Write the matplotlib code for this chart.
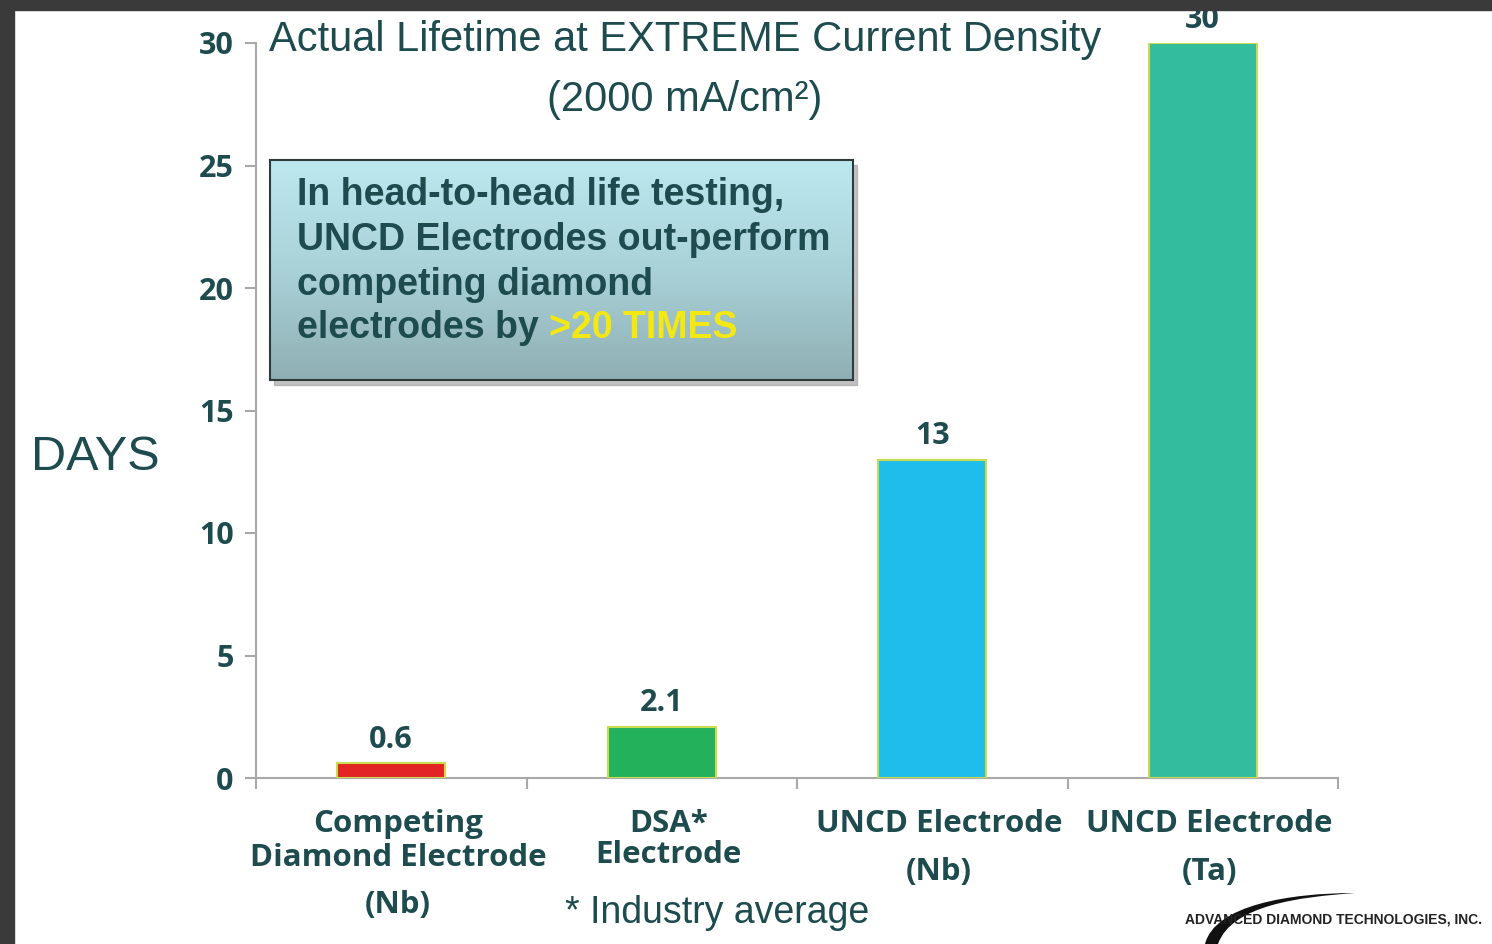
import matplotlib
matplotlib.use("Agg")
import matplotlib.pyplot as plt
import numpy as np
from matplotlib.patches import Rectangle, PathPatch
from matplotlib.path import Path
from matplotlib.colors import LinearSegmentedColormap

# data
categories = [["Competing", "Diamond Electrode", "(Nb)"],
              ["DSA*", "Electrode"],
              ["UNCD Electrode", "(Nb)"],
              ["UNCD Electrode", "(Ta)"]]
days = [0.6, 2.1, 13, 30]
value_labels = ["0.6", "2.1", "13", "30"]
bar_colors = ["#e22424", "#23b15b", "#1fbdea", "#33bd9e"]
yticks = [0, 5, 10, 15, 20, 25, 30]

TXT = "#1d4b4e"
LBL_FONT = "Open Sans"
W, H = 1492, 944

fig = plt.figure(figsize=(W / 100, H / 100), dpi=100, facecolor="white")

# dark frame at top and left, drawn above everything
fig.add_artist(Rectangle((0, 1 - 10 / H), 1, 10 / H, transform=fig.transFigure,
                         color="#3a3a3a", zorder=20))
fig.add_artist(Rectangle((0, 0), 14 / W, 1, transform=fig.transFigure,
                         color="#3a3a3a", zorder=20))

ax = fig.add_axes([256 / W, 1 - 778 / H, (1338 - 256) / W, (778 - 43) / H])
ax.set_facecolor("none")
x = np.arange(len(days))
ax.bar(x, days, width=0.4, color=bar_colors, edgecolor="#c9dc4f", linewidth=1.5, zorder=3)
ax.set_xlim(-0.5, 3.5)
ax.set_ylim(0, 30)

for s in ["top", "right"]:
    ax.spines[s].set_visible(False)
for s in ["left", "bottom"]:
    ax.spines[s].set_color("#a9a9a9")
    ax.spines[s].set_linewidth(1.5)

ax.set_yticks(yticks)
ax.set_yticklabels([str(v) for v in yticks], fontfamily=LBL_FONT, fontweight="bold",
                   fontsize=22, color=TXT)
ax.set_xticks(np.arange(-0.5, len(days), 1.0))
ax.set_xticklabels([])
ax.tick_params(axis="both", length=8, width=1.5, color="#a9a9a9", direction="out")
ax.tick_params(axis="y", pad=8)

# value labels
for xi, v, lab in zip(x, days, value_labels):
    ax.annotate(lab, (xi, v), xytext=(0, 6), textcoords="offset points",
                ha="center", va="bottom", fontfamily=LBL_FONT, fontweight="bold",
                fontsize=22, color=TXT, annotation_clip=False)

# category labels, line by line
line_gaps = [[34, 47], [31], [48], [48]]
for xi, lines, gaps in zip(x, categories, line_gaps):
    offs = [-46]
    for g in gaps:
        offs.append(offs[-1] - g)
    for ln, off in zip(lines, offs):
        ax.annotate(ln, (xi, 0), xycoords=("data", "axes fraction"),
                    xytext=(5, off * 0.72), textcoords="offset points",
                    ha="center", va="center", fontfamily=LBL_FONT, fontweight="bold",
                    fontsize=22.5, color=TXT, annotation_clip=False)

# title and axis label
fig.text(685 / W, 1 - 40 / H, "Actual Lifetime at EXTREME Current Density",
         ha="center", va="center", fontfamily="Liberation Sans", fontsize=30, color=TXT)
fig.text(685 / W, 1 - 100 / H, "(2000 mA/cm²)",
         ha="center", va="center", fontfamily="Liberation Sans", fontsize=30, color=TXT)
fig.text(95 / W, 1 - 458 / H, "DAYS", ha="center", va="center",
         fontfamily="Liberation Sans", fontsize=35, color=TXT)

# callout box with gradient
bx0, by0, bx1, by1 = 270, 160, 853, 380
fig.patches.append(Rectangle(((bx0 + 4) / W, 1 - (by1 + 5) / H), (bx1 - bx0) / W,
                             (by1 - by0) / H, transform=fig.transFigure,
                             color="#9a9a9a", alpha=0.6, zorder=1))
bax = fig.add_axes([bx0 / W, 1 - by1 / H, (bx1 - bx0) / W, (by1 - by0) / H], zorder=2)
cmap = LinearSegmentedColormap.from_list("box", ["#bde8ef", "#a9d2d8", "#8fafb3"])
grad = np.linspace(0, 1, 256).reshape(-1, 1)
bax.imshow(grad, aspect="auto", cmap=cmap, extent=(0, 1, 0, 1), origin="upper")
bax.set_xticks([])
bax.set_yticks([])
for s in bax.spines.values():
    s.set_color("#2f3a3a")
    s.set_linewidth(1.5)

box_lines = ["In head-to-head life testing,", "UNCD Electrodes out-perform",
             "competing diamond", "electrodes by "]
line_y = [195, 240, 285, 328]
for ln, yy in zip(box_lines, line_y):
    t = fig.text(297 / W, 1 - yy / H, ln, ha="left", va="center", fontfamily="Liberation Sans",
                 fontweight="bold", fontsize=27, color=TXT, zorder=5)
fig.canvas.draw()
bb = t.get_window_extent(renderer=fig.canvas.get_renderer())
fig.text(bb.x1 / W, 1 - line_y[-1] / H, ">20 TIMES", ha="left", va="center",
         fontfamily="Liberation Sans", fontweight="bold", fontsize=27, color="#f4e812", zorder=5)

# footnote
fig.text(565 / W, 1 - 913 / H, "* Industry average", ha="left", va="center",
         fontfamily="Liberation Sans", fontsize=27, color=TXT)

# company logo
verts = [(1205, 944), (1215, 905), (1290, 893), (1355, 893),
         (1300, 897), (1232, 905), (1218, 944), (1205, 944)]
codes = [Path.MOVETO, Path.CURVE4, Path.CURVE4, Path.CURVE4,
         Path.CURVE4, Path.CURVE4, Path.CURVE4, Path.CLOSEPOLY]
verts = [(vx / W, 1 - vy / H) for vx, vy in verts]
fig.patches.append(PathPatch(Path(verts, codes), transform=fig.transFigure,
                             facecolor="#111111", edgecolor="none", zorder=3))
fig.text(1185 / W, 1 - 919 / H, "ADVANCED DIAMOND TECHNOLOGIES, INC.", ha="left", va="center",
         fontfamily="Liberation Sans", fontweight="bold",
         fontsize=10, color="#222222", zorder=4)

fig.savefig("out.png", dpi=100)
